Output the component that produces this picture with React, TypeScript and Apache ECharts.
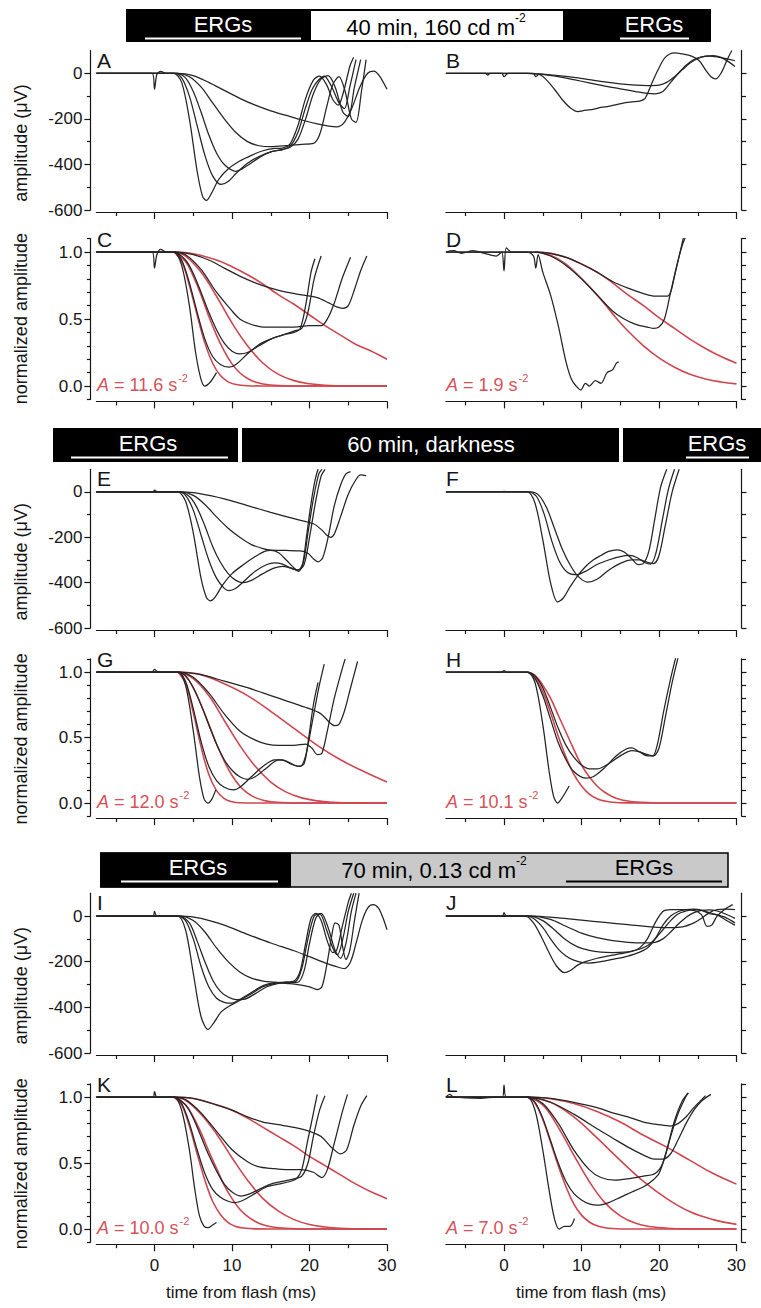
import React, { useEffect, useRef } from "react";
import * as echarts from "echarts";

// ---------- tick / label values ----------
const X_MAJOR = [0, 10, 20, 30];
const X_MINOR = [-5, 5, 15, 25];
const UV_MAJOR = [-600, -400, -200, 0];
const UV_MINOR = [-500, -300, -100];
const NORM_MAJOR = [0, 0.5, 1];
const NORM_MINOR = [-0.1, 0.1, 0.2, 0.3, 0.4, 0.6, 0.7, 0.8, 0.9, 1.1];
const RATES = ["11.6", "1.9", "12.0", "10.1", "10.0", "7.0"];

// ---------- Panel A (µV) ----------
const A1 = [[-7.5,0],[-3,0],[-0.3,0],[0,-70],[0.3,-5],[0.8,8],[1.5,0],[2.5,0],[3.5,-40],[4.5,-200],[5.5,-430],[6.2,-540],[6.7,-558],[7.3,-530],[8.3,-465],[9.5,-420],[11,-385],[12.5,-360],[14,-340],[15.5,-330],[16.5,-328],[17.5,-310],[18.5,-230],[19.5,-110],[20.5,-30],[21.3,-12],[22.2,-50],[23,-115],[23.7,-140],[24.4,-80],[25.2,30],[25.7,70]];
const A2 = [[-7.5,0],[2.6,0],[3.5,-20],[4.5,-100],[5.5,-230],[6.5,-360],[7.5,-450],[8.6,-488],[9.5,-475],[10.5,-440],[12,-395],[13.5,-365],[15,-345],[16.5,-335],[17.5,-320],[18.5,-260],[19.5,-150],[20.5,-60],[21.9,-12],[22.8,-55],[23.8,-130],[24.5,-155],[25.2,-60],[26,60]];
const A3 = [[-7.5,0],[2.8,0],[4,-20],[5,-80],[6,-170],[7,-270],[8,-350],[9,-400],[10.5,-430],[12,-405],[13.5,-370],[15,-345],[16.5,-335],[17.5,-325],[18.5,-290],[19.5,-200],[20.5,-90],[21.5,-25],[22.4,-10],[23.3,-60],[24.3,-170],[25,-190],[25.8,-60],[26.6,60]];
const A4 = [[-7.5,0],[3,0],[4.5,-15],[6,-60],[7.5,-130],[9,-200],[10.5,-260],[12,-300],[13.5,-318],[15,-322],[17,-318],[19,-312],[20.5,-308],[21.3,-270],[22.2,-150],[23,-50],[23.8,-15],[24.6,-80],[25.4,-200],[26,-215],[26.7,-80],[27.3,60]];
const A5 = [[-7.5,0],[3,0],[5,-10],[7,-40],[9,-75],[11,-110],[13,-140],[15,-165],[17,-185],[19,-205],[21,-222],[22.5,-232],[23.5,-235],[24.5,-215],[25.5,-150],[26.5,-60],[27.5,0],[28.3,10],[29,-10],[30,-70]];

// ---------- Panel B (µV) ----------
const B1 = [[-7.5,0],[-2.4,0],[-2.1,-8],[-1.8,0],[-0.3,0],[0,-15],[0.3,-5],[0.6,0],[3.8,0],[4.1,-15],[4.5,-5],[5.5,-30],[6.5,-70],[7.5,-115],[8.5,-150],[9.5,-168],[10.5,-162],[11.5,-158],[12.5,-150],[13.5,-145],[14.5,-138],[15.5,-130],[16.5,-125],[17.5,-122],[18.2,-110],[19,-50],[19.8,10],[20.8,70],[22,90],[23,85],[24.2,75],[25.2,55],[26,15],[26.7,-15],[27.3,-25],[28,0],[28.8,60],[29.4,100]];
const B2 = [[-7.5,0],[3,0],[5,-5],[7,-15],[9,-28],[11,-42],[13,-56],[15,-68],[17,-80],[18.5,-88],[19.5,-90],[20.5,-80],[21.5,-40],[22.5,0],[23.5,35],[24.5,60],[25.5,72],[26.5,75],[27.5,72],[28.5,65],[29.8,55]];
const B3 = [[-7.5,0],[3,0],[5,-4],[7,-10],[9,-18],[11,-28],[13,-38],[15,-46],[17,-52],[18.5,-54],[20,-52],[21,-40],[22,-15],[23,15],[24,45],[25,65],[26,75],[27,78],[28,70],[29,50],[29.8,30]];

// ---------- Panel C (normalized) ----------
const C1 = [[-7.5,1],[-3,1],[-0.3,1],[0,0.88],[0.3,0.98],[0.8,1.02],[1.5,1],[2.5,1],[3.5,0.9],[4.5,0.6],[5.3,0.25],[6,0.05],[6.5,0],[7.2,0.03],[8,0.1]];
const C2 = [[-7.5,1],[2.5,1],[3.5,0.94],[4.5,0.77],[5.5,0.55],[6.5,0.35],[7.5,0.22],[8.5,0.16],[9.6,0.14],[10.5,0.16],[12,0.24],[13.5,0.31],[15,0.35],[16.5,0.38],[18,0.4],[18.8,0.43],[19.5,0.6],[20.2,0.85],[20.7,0.95]];
const C3 = [[-7.5,1],[2.5,1],[4,0.94],[5,0.84],[6,0.7],[7,0.55],[8,0.42],[9,0.32],[10,0.26],[11,0.24],[12,0.25],[13.5,0.3],[15,0.35],[16.5,0.38],[18,0.41],[19,0.43],[19.8,0.55],[20.6,0.8],[21.5,0.97]];
const C4 = [[-7.5,1],[2.5,1],[4,0.98],[6,0.87],[8,0.7],[10,0.56],[11,0.5],[12,0.47],[13,0.45],[14,0.44],[16,0.44],[18,0.44],[20,0.45],[21.5,0.45],[22.3,0.5],[23.2,0.62],[24.2,0.8],[25.3,0.96]];
const C5 = [[-7.5,1],[3,1],[5,0.98],[7,0.94],[9,0.88],[11,0.82],[13,0.77],[15,0.73],[17,0.7],[19,0.68],[21,0.66],[22.5,0.62],[23.5,0.59],[24.3,0.58],[25,0.6],[25.8,0.72],[26.6,0.86],[27.4,0.97]];
const CR1 = [[2.5,1],[3.5,0.93],[4.5,0.75],[5.5,0.53],[6.5,0.32],[7.5,0.17],[8.5,0.078],[9.5,0.031],[10.5,0.011],[12,0.002],[14,0],[30,0]];
const CR2 = [[2.5,1],[4,0.93],[5,0.82],[6,0.68],[7,0.52],[8,0.38],[9,0.26],[10,0.165],[11,0.099],[12,0.056],[13,0.029],[14,0.015],[16,0.003],[18,0],[30,0]];
const CR3 = [[2.5,1],[4,0.97],[6,0.85],[8,0.67],[10,0.47],[12,0.3],[14,0.17],[16,0.087],[18,0.04],[20,0.017],[22,0.006],[25,0.001],[30,0]];
const CR4 = [[2.5,1],[5,0.987],[8,0.94],[10,0.89],[12,0.83],[14,0.76],[16,0.68],[18,0.61],[20,0.53],[22,0.45],[24,0.38],[26,0.31],[28,0.26],[30,0.2]];

// ---------- Panel D (normalized) ----------
const D1 = [[-7.5,1],[-6.5,1.01],[-5.5,0.99],[-4,1.01],[-2.5,0.99],[-1,0.97],[-0.3,1],[0,0.86],[0.3,1.03],[1,1],[3,1],[3.8,0.97],[4.1,0.88],[4.4,0.98],[5,0.85],[6,0.68],[7,0.45],[8,0.18],[8.7,0.05],[9.3,0.0],[9.9,-0.03],[10.5,0.02],[11,0.0],[11.8,0.04],[12.5,0.02],[13.3,0.1],[14,0.12],[14.5,0.17],[14.8,0.18]];
const D2 = [[-7.5,1],[4,1],[6,0.97],[8,0.9],[10,0.8],[12,0.68],[14,0.56],[15.5,0.5],[17,0.46],[18.5,0.44],[19.3,0.43],[20,0.44],[20.7,0.5],[21.5,0.7],[22.3,0.9],[23,1.05],[23.7,1.15]];
const D3 = [[-7.5,1],[4,1],[6,0.99],[8,0.96],[10,0.91],[12,0.85],[14,0.78],[16,0.73],[18,0.69],[19.5,0.67],[21,0.67],[21.5,0.7],[22,0.82],[22.6,0.97],[23.2,1.12]];
const DR1 = [[4,1],[6,0.976],[8,0.91],[10,0.8],[12,0.68],[14,0.54],[16,0.41],[18,0.3],[20,0.21],[22,0.14],[24,0.087],[26,0.052],[28,0.03],[30,0.016]];
const DR2 = [[4,1],[6,0.99],[8,0.96],[10,0.91],[12,0.85],[14,0.77],[16,0.68],[18,0.6],[20,0.51],[22,0.43],[24,0.35],[26,0.28],[28,0.22],[30,0.17]];

// ---------- Panel E (µV) ----------
const E1 = [[-7.5,0],[-0.2,0],[0,8],[0.4,0],[3,0],[4,-40],[5,-180],[6,-380],[6.7,-465],[7.2,-480],[7.8,-465],[8.8,-410],[10,-360],[11.5,-320],[13,-285],[14.2,-262],[15,-258],[16,-268],[17,-300],[18,-335],[18.6,-350],[19.1,-320],[19.6,-200],[20.2,-50],[20.7,50],[21.1,100]];
const E2 = [[-7.5,0],[3,0],[4,-15],[5,-80],[6,-190],[7,-300],[8,-380],[9,-425],[9.6,-435],[10.5,-425],[11.5,-395],[13,-350],[14.5,-320],[15.5,-313],[16.5,-318],[17.5,-335],[18.5,-345],[19.2,-310],[19.8,-180],[20.5,-30],[21.2,80],[21.6,100]];
const E3 = [[-7.5,0],[3.2,0],[4.5,-20],[5.5,-70],[6.5,-150],[7.5,-240],[8.5,-310],[9.5,-360],[10.5,-390],[11.4,-400],[12.5,-390],[14,-360],[15.5,-335],[16.5,-328],[17.5,-335],[18.5,-345],[19.3,-320],[20,-200],[20.8,-40],[21.5,70],[22,100]];
const E4 = [[-7.5,0],[3.3,0],[5,-15],[6.5,-55],[8,-110],[9.5,-160],[11,-200],[12.5,-232],[14,-250],[15,-257],[17,-258],[18.8,-260],[19.8,-270],[20.5,-295],[21.1,-308],[21.7,-290],[22.4,-200],[23.2,-60],[24,30],[24.7,80],[25.3,90]];
const E5 = [[-7.5,0],[3.5,0],[6,-8],[9,-30],[12,-60],[15,-90],[18,-118],[20.5,-140],[21.5,-165],[22.2,-190],[22.7,-200],[23.2,-185],[24,-110],[25,-10],[26,55],[26.6,75],[27.3,72]];

// ---------- Panel F (µV) ----------
const F1 = [[-7.5,0],[-0.2,0],[0,3],[0.3,0],[3,0],[4,-50],[5,-210],[6,-400],[6.9,-485],[7.6,-470],[8.5,-420],[9.5,-370],[10.5,-330],[11.5,-300],[12.5,-280],[13.5,-262],[14.6,-255],[15.5,-265],[16.5,-295],[17.3,-320],[18,-315],[18.7,-260],[19.4,-130],[20.2,20],[21,100]];
const F2 = [[-7.5,0],[3.2,0],[4.2,-20],[5.2,-100],[6.2,-220],[7.2,-310],[8.2,-355],[9.3,-365],[10.5,-350],[12,-320],[13.5,-300],[15,-285],[16.2,-280],[17.2,-290],[18.2,-312],[18.9,-318],[19.6,-270],[20.4,-130],[21.2,10],[22,100]];
const F3 = [[-7.5,0],[3.4,0],[4.5,-15],[5.5,-70],[6.5,-160],[7.5,-250],[8.5,-320],[9.5,-370],[10.8,-398],[12,-385],[13.5,-345],[15,-315],[16.5,-300],[17.5,-300],[18.5,-310],[19.3,-316],[20,-280],[20.8,-150],[21.7,0],[22.6,100]];

// ---------- Panel G (normalized) ----------
const G1 = [[-7.5,1],[-0.3,1],[0,1.02],[0.5,1],[3,1],[4,0.9],[5,0.55],[5.8,0.2],[6.4,0.03],[6.9,0],[7.4,0.03],[7.9,0.1]];
const G2 = [[-7.5,1],[3,1],[4,0.93],[5,0.72],[6,0.47],[7,0.28],[8,0.17],[9,0.12],[10.2,0.1],[11,0.12],[12.5,0.2],[14,0.28],[15.5,0.33],[16.5,0.33],[17.5,0.3],[18.5,0.28],[19.3,0.3],[19.9,0.5],[20.5,0.75],[21.1,0.92]];
const G3 = [[-7.5,1],[3,1],[4,0.97],[5,0.88],[6,0.75],[7,0.6],[8,0.45],[9,0.33],[10,0.25],[11,0.2],[12,0.18],[13,0.2],[14.5,0.27],[16,0.33],[17,0.32],[18,0.29],[18.8,0.28],[19.5,0.36],[20.3,0.6],[21.2,0.88],[21.9,1.06]];
const G4 = [[-7.5,1],[3,1],[5,0.96],[7,0.84],[9,0.68],[11,0.55],[13,0.48],[14.5,0.45],[16,0.44],[18,0.44],[19.5,0.45],[20.3,0.42],[21,0.37],[21.6,0.38],[22.3,0.55],[23.2,0.8],[24.2,1.02],[24.6,1.1]];
const G5 = [[-7.5,1],[3,1],[6,0.98],[9,0.93],[12,0.88],[14,0.84],[16,0.8],[18,0.76],[20,0.72],[21.5,0.68],[22.5,0.62],[23.2,0.59],[23.8,0.6],[24.5,0.7],[25.3,0.88],[26.2,1.08]];
const GR1 = [[3,1],[4,0.91],[5,0.69],[6,0.43],[7,0.22],[8,0.095],[9,0.034],[10,0.01],[11,0.002],[13,0],[30,0]];
const GR2 = [[3,1],[4,0.97],[5,0.88],[6,0.75],[7,0.6],[8,0.45],[9,0.32],[10,0.21],[11,0.13],[12,0.075],[13,0.041],[14,0.021],[15,0.01],[17,0.002],[19,0],[30,0]];
const GR3 = [[3,1],[5,0.95],[7,0.82],[9,0.63],[11,0.44],[13,0.28],[15,0.16],[17,0.083],[19,0.039],[21,0.016],[23,0.006],[26,0.001],[30,0]];
const GR4 = [[3,1],[6,0.98],[9,0.91],[12,0.82],[15,0.7],[18,0.57],[21,0.44],[24,0.33],[27,0.24],[30,0.16]];

// ---------- Panel H (normalized) ----------
const H1 = [[-7.5,1],[-0.3,1],[0,1.01],[0.3,1],[3,1],[4,0.92],[5,0.6],[5.8,0.25],[6.4,0.05],[6.9,0],[7.5,0.04],[8.4,0.13]];
const H2 = [[-7.5,1],[3,1],[4,0.95],[5,0.82],[6,0.64],[7,0.46],[8,0.33],[9,0.24],[10.5,0.19],[11.5,0.2],[13,0.27],[14.5,0.36],[15.7,0.41],[16.5,0.42],[17.5,0.39],[18.5,0.36],[19.2,0.36],[19.8,0.45],[20.6,0.7],[21.5,0.95],[22.2,1.12]];
const H3 = [[-7.5,1],[3,1],[4,0.97],[5,0.88],[6,0.73],[7,0.57],[8,0.44],[9,0.35],[10,0.29],[11,0.26],[12,0.26],[13.5,0.3],[15,0.36],[16.5,0.4],[17.5,0.39],[18.5,0.37],[19.3,0.36],[20,0.42],[20.8,0.65],[21.7,0.92],[22.5,1.12]];
const HR1 = [[3,1],[4,0.96],[5,0.85],[6,0.69],[7,0.51],[8,0.35],[9,0.22],[10,0.13],[11,0.068],[12,0.033],[13,0.015],[14,0.006],[16,0.001],[18,0],[30,0]];
const HR2 = [[3,1],[4,0.975],[5,0.9],[6,0.8],[7,0.67],[8,0.54],[9,0.41],[10,0.29],[11,0.2],[12,0.13],[13,0.082],[14,0.048],[15,0.027],[16,0.015],[17,0.007],[19,0.002],[21,0],[30,0]];

// ---------- Panel I (µV) ----------
const I1 = [[-7.5,0],[-0.2,0],[0,20],[0.3,0],[3,0],[4,-60],[5,-250],[6,-440],[6.9,-497],[7.6,-470],[8.6,-420],[9.6,-395],[11,-370],[12.5,-340],[14,-310],[15.5,-295],[17,-290],[18,-285],[18.8,-240],[19.5,-120],[20.2,-10],[20.8,12],[21.5,-20],[22.3,-110],[23,-160],[23.5,-150],[24.2,-50],[25,60],[25.4,100]];
const I2 = [[-7.5,0],[3,0],[4,-20],[5,-100],[6,-220],[7,-310],[8,-360],[9,-378],[9.9,-382],[11,-365],[12.5,-335],[14,-305],[15.5,-292],[17,-290],[18.2,-287],[19,-230],[19.8,-100],[20.6,0],[21.3,10],[22.2,-60],[23,-140],[23.6,-170],[24.3,-100],[25,20],[25.7,100]];
const I3 = [[-7.5,0],[3.2,0],[4.5,-30],[5.5,-110],[6.5,-200],[7.5,-280],[8.5,-330],[9.5,-355],[10.5,-366],[11.5,-365],[13,-340],[14.5,-310],[16,-295],[17.5,-292],[18.5,-290],[19.3,-240],[20,-120],[20.8,-10],[21.5,12],[22.4,-50],[23.3,-150],[24,-185],[24.7,-120],[25.4,20],[26,100]];
const I4 = [[-7.5,0],[3.3,0],[5,-20],[6.5,-70],[8,-140],[9.5,-200],[11,-245],[12.5,-272],[14,-285],[15.5,-290],[17,-295],[18.5,-300],[20,-310],[21,-322],[21.6,-310],[22.2,-220],[22.8,-100],[23.3,-30],[23.8,-40],[24.3,-140],[24.7,-190],[25.2,-150],[25.8,-20],[26.4,100]];
const I5 = [[-7.5,0],[3.5,0],[6,-10],[9,-40],[12,-80],[15,-118],[18,-152],[20,-178],[22,-205],[23.5,-222],[24.5,-230],[25.3,-200],[26,-120],[26.8,-20],[27.5,35],[28.2,50],[28.9,35],[29.5,-10],[30,-60]];

// ---------- Panel J (µV) ----------
const J1 = [[-7.5,0],[-0.2,0],[0,15],[0.3,0],[2.8,0],[3.8,-30],[4.8,-90],[5.8,-160],[6.8,-220],[7.8,-248],[8.5,-240],[9.5,-215],[10.5,-200],[12,-185],[13.5,-175],[15,-165],[16.5,-155],[17.5,-140],[18.5,-100],[19.5,-30],[20.5,20],[21.5,28],[23,28],[24.5,25],[25.5,5],[26.2,-45],[26.8,-40],[27.5,0],[28.5,30],[29.5,50]];
const J2 = [[-7.5,0],[3,0],[4,-15],[5,-50],[6,-100],[7,-145],[8,-175],[9,-193],[10,-203],[11,-206],[12.5,-200],[14,-190],[15.5,-180],[17,-165],[18.5,-140],[19.5,-100],[20.5,-40],[21.5,0],[22.5,20],[23.5,28],[24.5,30],[25.5,25],[26.5,10],[27.5,5],[28.5,-5],[29.8,-30]];
const J3 = [[-7.5,0],[3.2,0],[5,-20],[6.5,-60],[8,-105],[9.5,-135],[11,-150],[12.5,-158],[14,-160],[15.5,-158],[17,-150],[18.5,-130],[19.5,-100],[20.5,-60],[21.5,-20],[22.5,10],[23.5,22],[24.5,28],[25.5,25],[26.5,15],[27.5,5],[28.5,-15],[29.8,-40]];
const J4 = [[-7.5,0],[3.5,0],[6,-15],[8,-45],[10,-75],[12,-95],[14,-108],[16,-115],[18,-118],[19.5,-115],[20.5,-100],[21.5,-70],[22.5,-35],[23.5,-5],[24.5,15],[25.5,25],[26.5,27],[27.5,22],[28.5,10],[29.8,-10]];
const J5 = [[-7.5,0],[3.5,0],[7,-8],[10,-18],[13,-28],[16,-38],[19,-47],[21.5,-51],[23,-48],[24.5,-30],[25.5,-10],[26.5,15],[27.5,28],[28.5,30],[29.8,28]];

// ---------- Panel K (normalized) ----------
const K1 = [[-7.5,1],[-3,1],[-0.2,1],[0,1.04],[0.3,1],[2.5,1],[3.5,0.9],[4.5,0.6],[5.2,0.3],[5.8,0.1],[6.4,0.02],[6.9,0.01],[7.5,0.03],[8,0.05]];
const K2 = [[-7.5,1],[2.5,1],[3.5,0.95],[4.5,0.8],[5.5,0.6],[6.5,0.42],[7.5,0.3],[8.5,0.24],[9.5,0.21],[10.3,0.2],[11.5,0.22],[13,0.27],[14.5,0.32],[16,0.34],[17.5,0.36],[18.3,0.38],[19,0.45],[19.7,0.65],[20.4,0.85],[21,1.02]];
const K3 = [[-7.5,1],[2.5,1],[4,0.94],[5,0.84],[6,0.7],[7,0.56],[8,0.44],[9,0.34],[10,0.28],[11.1,0.25],[12,0.26],[13.5,0.3],[15,0.34],[16.5,0.36],[18,0.38],[19,0.4],[19.8,0.5],[20.5,0.7],[21.3,0.9],[22,1.01]];
const K4 = [[-7.5,1],[2.5,1],[4,0.98],[6,0.88],[8,0.74],[10,0.6],[12,0.51],[13.5,0.47],[15,0.46],[17,0.45],[19,0.45],[20.5,0.43],[21.6,0.39],[22.3,0.45],[23.2,0.65],[24.2,0.88],[24.9,1.02]];
const K5 = [[-7.5,1],[2.5,1],[5,0.99],[8,0.94],[10,0.9],[12,0.85],[14,0.81],[16,0.79],[18,0.77],[20,0.74],[21.5,0.7],[22.8,0.62],[24,0.57],[24.8,0.6],[25.7,0.78],[26.6,0.93],[27.4,1.01]];
const KR1 = [[2.5,1],[3.5,0.94],[4.5,0.78],[5.5,0.57],[6.5,0.37],[7.5,0.21],[8.5,0.11],[9.5,0.048],[10.5,0.019],[11.5,0.007],[13,0.001],[15,0],[30,0]];
const KR2 = [[2.5,1],[4,0.94],[5,0.85],[6,0.73],[7,0.59],[8,0.46],[9,0.33],[10,0.23],[11,0.15],[12,0.096],[13,0.057],[14,0.032],[15,0.017],[16,0.009],[18,0.002],[20,0],[30,0]];
const KR3 = [[2.5,1],[4,0.975],[6,0.87],[8,0.72],[10,0.54],[12,0.37],[14,0.23],[16,0.135],[18,0.071],[20,0.034],[22,0.015],[24,0.006],[27,0.001],[30,0]];
const KR4 = [[2.5,1],[5,0.988],[8,0.94],[10,0.9],[12,0.84],[14,0.77],[16,0.7],[18,0.63],[20,0.55],[22,0.48],[24,0.41],[26,0.34],[28,0.28],[30,0.23]];

// ---------- Panel L (normalized) ----------
const L1 = [[-7.5,1],[-7,1.02],[-6.5,1],[-3,0.99],[-1,1],[-0.2,1],[0,1.09],[0.3,1],[3,1],[4,0.9],[5,0.6],[5.8,0.3],[6.5,0.08],[7.1,0],[7.8,0.02],[8.5,0.02],[9.1,0.08]];
const L2 = [[-7.5,1],[3,1],[4,0.96],[5,0.84],[6,0.67],[7,0.5],[8,0.36],[9,0.27],[10,0.22],[11,0.19],[12.1,0.18],[13.5,0.2],[15,0.24],[16.5,0.28],[18,0.32],[19,0.36],[20,0.42],[21,0.6],[22,0.82],[23,0.97],[23.8,1.03]];
const L3 = [[-7.5,1],[3,1],[5,0.95],[7,0.8],[9,0.6],[11,0.45],[12.5,0.39],[14.3,0.37],[16,0.38],[18,0.4],[19.5,0.42],[20.5,0.5],[21.5,0.7],[22.5,0.88],[23.7,1.03]];
const L4 = [[-7.5,1],[3,1],[6,0.96],[9,0.87],[12,0.76],[14,0.69],[16,0.62],[18,0.56],[19.4,0.53],[20.5,0.53],[21.5,0.57],[22.5,0.68],[23.5,0.8],[24.5,0.9],[25.5,0.97],[26.7,1.02]];
const L5 = [[-7.5,1],[3,1],[6,0.99],[9,0.96],[12,0.92],[14,0.88],[16,0.85],[18,0.81],[20,0.79],[21.5,0.78],[22.5,0.8],[23.5,0.85],[24.5,0.92],[25.5,0.98],[26,1.01]];
const LR1 = [[3,1],[4,0.955],[5,0.83],[6,0.66],[7,0.48],[8,0.32],[9,0.19],[10,0.105],[11,0.053],[12,0.024],[13,0.01],[14,0.004],[16,0],[30,0]];
const LR2 = [[3,1],[5,0.94],[7,0.77],[9,0.56],[11,0.36],[13,0.2],[15,0.1],[17,0.043],[19,0.017],[21,0.006],[24,0.001],[30,0]];
const LR3 = [[3,1],[6,0.96],[9,0.85],[12,0.69],[15,0.52],[18,0.36],[21,0.23],[24,0.13],[27,0.071],[30,0.035]];
const LR4 = [[3,1],[6,0.987],[9,0.95],[12,0.89],[15,0.81],[18,0.71],[21,0.62],[24,0.52],[27,0.42],[30,0.34]];

// ---------- layout / style ----------
const FONT = "'Liberation Sans', Arial, Helvetica, sans-serif";
const INK = "#151515";
const TRACE = "#242424";
const RED = "#d0464f";
const RED_TXT = "#d4535b";

const ROWS = [
  { top: 50.5, height: 159.5, kind: "uv" },
  { top: 238.6, height: 160.8, kind: "norm" },
  { top: 469.3, height: 158.7, kind: "uv" },
  { top: 658.9, height: 157.2, kind: "norm" },
  { top: 893.2, height: 159.8, kind: "uv" },
  { top: 1083.8, height: 158.4, kind: "norm" },
];
const COLS = [
  { left: 96.4, width: 290.6 },
  { left: 445.9, width: 290.6 },
];

const PANELS = [
  { letter: "A", row: 0, col: 0, black: [A1, A2, A3, A4, A5], red: [] },
  { letter: "B", row: 0, col: 1, black: [B1, B2, B3], red: [] },
  { letter: "C", row: 1, col: 0, black: [C1, C2, C3, C4, C5], red: [CR1, CR2, CR3, CR4], rate: RATES[0] },
  { letter: "D", row: 1, col: 1, black: [D1, D2, D3], red: [DR1, DR2], rate: RATES[1] },
  { letter: "E", row: 2, col: 0, black: [E1, E2, E3, E4, E5], red: [] },
  { letter: "F", row: 2, col: 1, black: [F1, F2, F3], red: [] },
  { letter: "G", row: 3, col: 0, black: [G1, G2, G3, G4, G5], red: [GR1, GR2, GR3, GR4], rate: RATES[2] },
  { letter: "H", row: 3, col: 1, black: [H1, H2, H3], red: [HR1, HR2], rate: RATES[3] },
  { letter: "I", row: 4, col: 0, black: [I1, I2, I3, I4, I5], red: [] },
  { letter: "J", row: 4, col: 1, black: [J1, J2, J3, J4, J5], red: [] },
  { letter: "K", row: 5, col: 0, black: [K1, K2, K3, K4, K5], red: [KR1, KR2, KR3, KR4], rate: RATES[4] },
  { letter: "L", row: 5, col: 1, black: [L1, L2, L3, L4, L5], red: [LR1, LR2, LR3, LR4], rate: RATES[5] },
];

function buildOption() {
  const grid: any[] = [];
  const xAxis: any[] = [];
  const yAxis: any[] = [];
  const series: any[] = [];
  const graphic: any[] = [];
  const axisLine = { show: true, onZero: false, lineStyle: { color: INK, width: 1.2 } };
  const tickStyle = { color: INK, width: 1.2 };
  const labelBase = { color: INK, fontSize: 17, fontFamily: FONT };

  PANELS.forEach((p, i) => {
    const r = ROWS[p.row];
    const c = COLS[p.col];
    const uv = r.kind === "uv";
    const isRight = p.col === 1;
    grid.push({ left: c.left, width: c.width, top: r.top, height: r.height, containLabel: false, outerBoundsMode: "none" });

    xAxis.push({
      type: "value", gridIndex: i, min: -7.5, max: 30, position: "bottom", offset: 2,
      axisLine, splitLine: { show: false },
      axisTick: { show: true, customValues: X_MAJOR, length: 7, lineStyle: tickStyle },
      axisLabel: { ...labelBase, show: p.row === 5, customValues: X_MAJOR, margin: 13 },
    });
    xAxis.push({
      type: "value", gridIndex: i, min: -7.5, max: 30, position: "bottom", offset: 2,
      axisLine: { show: false, onZero: false }, splitLine: { show: false },
      axisTick: { show: true, customValues: X_MINOR, length: 4, lineStyle: tickStyle },
      axisLabel: { show: false },
    });
    const yMin = uv ? -600 : -0.1;
    const yMax = uv ? 100 : 1.1;
    const major = uv ? UV_MAJOR : NORM_MAJOR;
    const minor = uv ? UV_MINOR : NORM_MINOR;
    yAxis.push({
      type: "value", gridIndex: i, min: yMin, max: yMax,
      position: isRight ? "right" : "left", offset: isRight ? 5 : 6,
      axisLine, splitLine: { show: false },
      axisTick: { show: true, customValues: major, length: isRight ? 5 : 6, lineStyle: tickStyle },
      axisLabel: {
        ...labelBase, show: !isRight, customValues: major, margin: 8,
        formatter: (v: number) => (uv ? String(Math.round(v)) : v.toFixed(1)),
      },
    });
    yAxis.push({
      type: "value", gridIndex: i, min: yMin, max: yMax,
      position: isRight ? "right" : "left", offset: isRight ? 5 : 6,
      axisLine: { show: false, onZero: false }, splitLine: { show: false },
      axisTick: { show: true, customValues: minor, length: isRight ? 4.5 : 3.5, lineStyle: tickStyle },
      axisLabel: { show: false },
    });

    p.red.forEach((d: any) => {
      series.push({
        type: "line", xAxisIndex: 2 * i, yAxisIndex: 2 * i, data: d, showSymbol: false, symbol: "none",
        smooth: 0.4, silent: true, z: 2, lineStyle: { color: RED, width: 1.6 },
      });
    });
    p.black.forEach((d: any) => {
      series.push({
        type: "line", xAxisIndex: 2 * i, yAxisIndex: 2 * i, data: d, showSymbol: false, symbol: "none",
        smooth: 0.3, silent: true, z: 3, lineStyle: { color: TRACE, width: 1.25 },
      });
    });

    // panel letter
    graphic.push({
      type: "text", x: isRight ? 446 : 97, y: uv ? r.top - 1 : r.top - 10, z: 20,
      style: { text: p.letter, fill: INK, fontSize: 21, fontFamily: FONT, align: "left", verticalAlign: "top" },
    });

    // fit annotation
    if ((p as any).rate) {
      const y0 = r.top + r.height * (1.1 / 1.2);
      graphic.push({
        type: "text", x: isRight ? 446 : 97, y: y0 - 3, z: 20,
        style: {
          text: `{i|A}{n| = ${(p as any).rate} s}{s|-2}`,
          align: "left", verticalAlign: "middle",
          rich: {
            i: { fill: RED_TXT, fontSize: 18, fontStyle: "italic", fontFamily: FONT, lineHeight: 22, verticalAlign: "bottom" },
            n: { fill: RED_TXT, fontSize: 18, fontFamily: FONT, lineHeight: 22, verticalAlign: "bottom" },
            s: { fill: RED_TXT, fontSize: 11, fontFamily: FONT, lineHeight: 22, verticalAlign: "top", padding: [0, 0, 0, 1] },
          },
        },
      });
    }

    // y-axis names (left column only)
    if (!isRight) {
      graphic.push({
        type: "text", x: 21, y: uv ? r.top + 92.5 : r.top + 80, rotation: Math.PI / 2, z: 20,
        style: {
          text: uv ? "amplitude (\u03bcV)" : "normalized amplitude",
          fill: INK, fontSize: 18, fontFamily: FONT, align: "center", verticalAlign: "middle",
        },
      });
    }
  });

  // x-axis names
  graphic.push({ type: "text", x: 241, y: 1292, z: 20, style: { text: "time from flash (ms)", fill: INK, fontSize: 17, fontFamily: FONT, align: "center", verticalAlign: "middle" } });
  graphic.push({ type: "text", x: 591, y: 1292, z: 20, style: { text: "time from flash (ms)", fill: INK, fontSize: 17, fontFamily: FONT, align: "center", verticalAlign: "middle" } });

  // ---- banners ----
  const bannerText = (x: number, y: number, text: string, fill: string) => ({
    type: "text", x, y, z: 21,
    style: { text, fill, fontSize: 22, fontFamily: FONT, align: "center", verticalAlign: "middle" },
  });
  const bannerRich = (x: number, y: number, main: string, fill: string) => ({
    type: "text", x, y, z: 21,
    style: {
      text: `{n|${main}}{s|-2}`, align: "center", verticalAlign: "middle",
      rich: {
        n: { fill, fontSize: 22, fontFamily: FONT, lineHeight: 26, verticalAlign: "bottom" },
        s: { fill, fontSize: 12, fontFamily: FONT, lineHeight: 26, verticalAlign: "top" },
      },
    },
  });
  const uline = (x1: number, x2: number, y: number, stroke: string) => ({
    type: "line", z: 21, shape: { x1, y1: y, x2, y2: y }, style: { stroke, lineWidth: 2 },
  });
  const box = (x: number, y: number, w: number, h: number, fill: string, stroke?: string) => ({
    type: "rect", z: 19, shape: { x, y, width: w, height: h },
    style: { fill, stroke: stroke || null, lineWidth: stroke ? 1.5 : 0 },
  });

  // banner 1
  graphic.push(box(126, 9, 585, 33, "#000"));
  graphic.push(box(311, 11, 252, 29, "#fff"));
  graphic.push(bannerText(223, 24.5, "ERGs", "#fff"));
  graphic.push(uline(145, 301, 38.5, "#fff"));
  graphic.push(bannerRich(436, 25, "40 min, 160 cd m", "#000"));
  graphic.push(bannerText(654, 24.5, "ERGs", "#fff"));
  graphic.push(uline(620, 689, 38.5, "#fff"));

  // banner 2
  graphic.push(box(53, 428, 185, 34, "#000"));
  graphic.push(box(242, 428, 377, 34, "#000"));
  graphic.push(box(623, 428, 138, 34, "#000"));
  graphic.push(bannerText(148, 443, "ERGs", "#fff"));
  graphic.push(uline(71, 228, 457.5, "#fff"));
  graphic.push(bannerText(431, 444, "60 min, darkness", "#fff"));
  graphic.push(bannerText(717, 443, "ERGs", "#fff"));
  graphic.push(uline(686, 749, 457.5, "#fff"));

  // banner 3
  graphic.push(box(101, 853, 627, 34, "#c9c9c9", "#000"));
  graphic.push(box(100, 852.5, 191, 35, "#000"));
  graphic.push(bannerText(198, 867, "ERGs", "#fff"));
  graphic.push(uline(121, 278, 881.5, "#fff"));
  graphic.push(bannerRich(434, 868, "70 min, 0.13 cd m", "#000"));
  graphic.push(bannerText(644, 867, "ERGs", "#000"));
  graphic.push(uline(566, 722, 881.5, "#000"));

  return { animation: false, backgroundColor: "#fff", grid, xAxis, yAxis, series, graphic };
}

export default function App() {
  const ref = useRef<HTMLDivElement>(null);
  useEffect(() => {
    if (!ref.current) return;
    const chart = echarts.init(ref.current, null, { renderer: "svg", width: 761, height: 1308 });
    chart.setOption(buildOption() as any);
    return () => chart.dispose();
  }, []);
  return <div ref={ref} style={{ position: "absolute", left: 0, top: 0, width: 761, height: 1308 }} />;
}
